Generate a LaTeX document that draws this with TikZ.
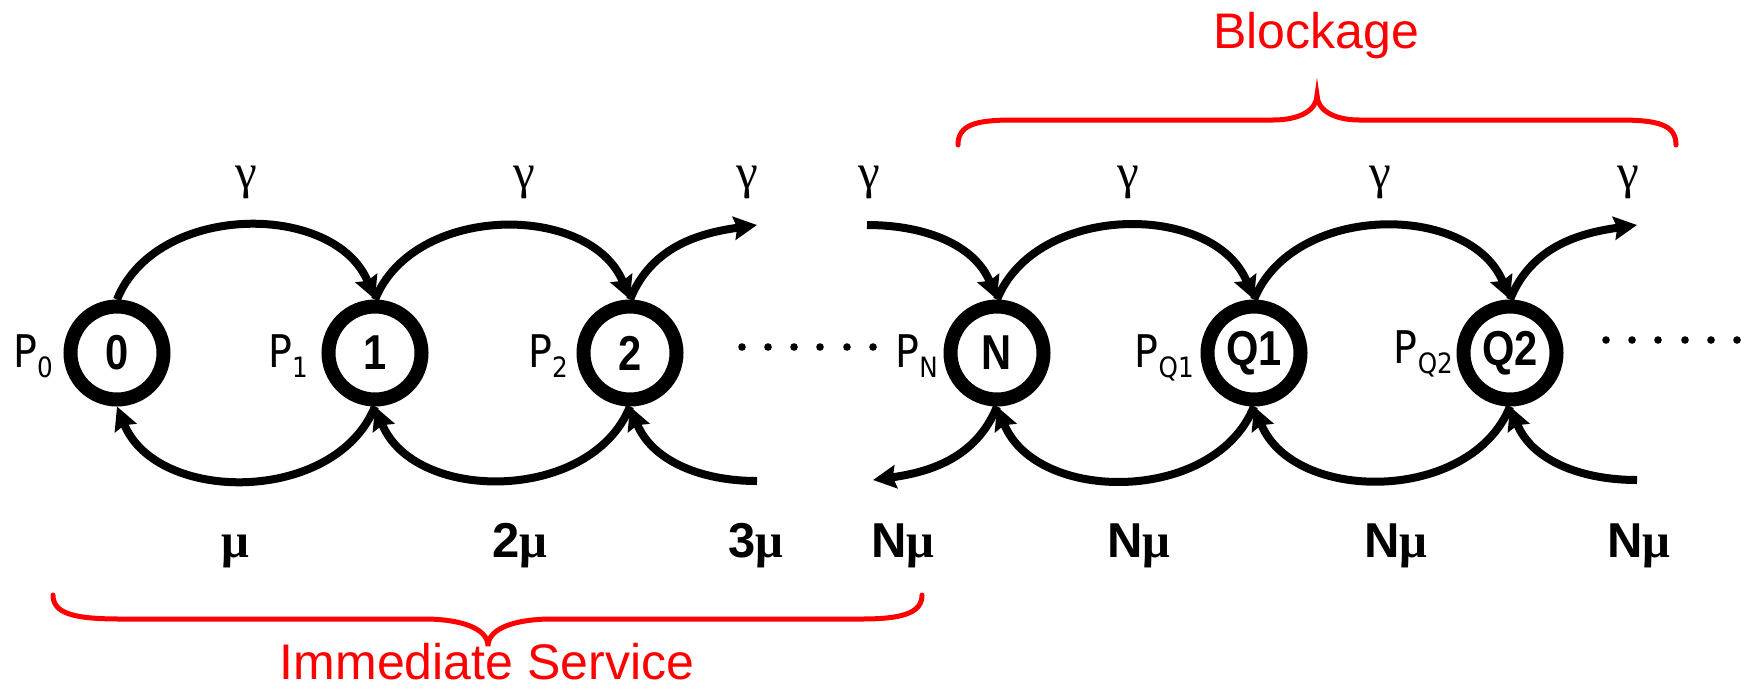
\documentclass[tikz,border=0pt]{standalone}
\usepackage{fontspec}
\setmainfont{Liberation Sans}
\newfontfamily\pfont[FakeStretch=0.88]{DejaVu Sans}
\newfontfamily\cfont[FakeStretch=0.85]{Liberation Sans}
\newfontfamily\gfont{Liberation Serif}
\usetikzlibrary{arrows.meta}
\newcommand\mysub[1]{\raisebox{-10pt}{\fontsize{28}{28}\selectfont #1}}
\begin{document}
\begin{tikzpicture}[x=1pt,y=1pt,
  state/.style={circle, draw, line width=14pt, minimum size=93pt, inner sep=0pt, outer sep=7pt,
    font=\cfont\bfseries\fontsize{49}{49}\selectfont},
  arc/.style={line width=8pt, -{Stealth[length=23pt,width=23pt,inset=3pt]}},
  up/.style={out=68,in=112,looseness=1.05},
  down/.style={out=-112,in=-68,looseness=1.05},
  plab/.style={anchor=base east, inner sep=0pt, font=\pfont\fontsize{45}{45}\selectfont},
  glab/.style={anchor=base, inner sep=0pt, font=\gfont\fontsize{49}{49}\selectfont},
  mlab/.style={anchor=base, inner sep=0pt, font=\bfseries\fontsize{49}{49}\selectfont},
  redtext/.style={anchor=base, inner sep=0pt, text=red},
  bracestyle/.style={draw=red, line width=5pt, line cap=round}
]
\useasboundingbox (0,0) rectangle (1747,-689);

% states
\node[state] (n0)  at (117,-353)  {0};
\node[state] (n1)  at (375,-353)  {1};
\node[state] (n2)  at (630,-353)  {2};
\node[state] (nN)  at (997,-353)  {N};
\node[state] (nQ1) at (1254,-353) {Q1};
\node[state] (nQ2) at (1510,-353) {Q2};

% probability labels
\node[plab] (p0)  at (53,-367)   {P\mysub{0}};
\node[plab] (p1)  at (308,-367)  {P\mysub{1}};
\node[plab] (p2)  at (568,-367)  {P\mysub{2}};
\node[plab] (pN)  at (938,-367)  {P\mysub{N}};
\node[plab] (pQ1) at (1194,-367) {P\mysub{Q1}};
\node[plab] (pQ2) at (1453,-363) {P\mysub{Q2}};

% free ends
\coordinate (t2) at (757,-225);
\coordinate (sN) at (867,-225);
\coordinate (b2) at (757,-481);
\coordinate (bN) at (873,-480);
\coordinate (tQ) at (1637,-225);
\coordinate (bQ) at (1637,-480);

% top arcs
\draw[arc] (n0.north) to[up] (n1.north);
\draw[arc] (n1.north) to[up] (n2.north);
\draw[arc] (n2.north) to[out=68,in=188] (t2);
\draw[arc] (sN) to[out=0,in=112] (nN.north);
\draw[arc] (nN.north) to[up] (nQ1.north);
\draw[arc] (nQ1.north) to[up] (nQ2.north);
\draw[arc] (nQ2.north) to[out=68,in=188] (tQ);

% bottom arcs
\draw[arc] (n1.south) to[down] (n0.south);
\draw[arc] (n2.south) to[down] (n1.south);
\draw[arc] (b2) to[out=180,in=-68] (n2.south);
\draw[arc] (nN.south) to[out=-112,in=8] (bN);
\draw[arc] (nQ1.south) to[down] (nN.south);
\draw[arc] (nQ2.south) to[down] (nQ1.south);
\draw[arc] (bQ) to[out=180,in=-68] (nQ2.south);

% dots
\foreach \x in {742,768,794,820,847,873} \fill (\x,-347) circle (3.8);
\foreach \x in {1606,1632,1658,1685,1711,1737} \fill (\x,-340) circle (3.8);

% gamma labels
\node[glab] (g1) at (246,-188)  {γ};
\node[glab] (g2) at (524,-188)  {γ};
\node[glab] (g3) at (747,-188)  {γ};
\node[glab] (g4) at (869,-188)  {γ};
\node[glab] (g5) at (1128,-188) {γ};
\node[glab] (g6) at (1380,-188) {γ};
\node[glab] (g7) at (1628,-188) {γ};

% mu labels
\node[mlab] (m1) at (235,-557)  {{\gfont μ}};
\node[mlab] (m2) at (520,-557)  {2{\gfont μ}};
\node[mlab] (m3) at (756,-557)  {3{\gfont μ}};
\node[mlab] (m4) at (903,-557)  {N{\gfont μ}};
\node[mlab] (m5) at (1139,-557) {N{\gfont μ}};
\node[mlab] (m6) at (1396,-557) {N{\gfont μ}};
\node[mlab] (m7) at (1639,-557) {N{\gfont μ}};

% braces
\path[bracestyle] (958,-145) .. controls (958,-125) and (975,-120) .. (1013,-120) -- (1273,-120)
  .. controls (1300,-120) and (1317,-110) .. (1317,-95)
  .. controls (1317,-110) and (1334,-120) .. (1359,-120) -- (1619,-120)
  .. controls (1659,-120) and (1676,-125) .. (1676,-145);
\path[bracestyle] (53,-595) .. controls (53,-614) and (75,-619) .. (121,-619) -- (424,-619)
  .. controls (460,-619) and (488,-628) .. (488,-646)
  .. controls (488,-628) and (516,-619) .. (552,-619) -- (861,-619)
  .. controls (900,-619) and (922,-614) .. (922,-595);

\node[redtext, font=\fontsize{50}{50}\selectfont] (block) at (1316,-48) {Blockage};
\node[redtext, font=\fontsize{50}{50}\selectfont] (imm) at (487,-679) {Immediate Service};
\end{tikzpicture}
\end{document}
